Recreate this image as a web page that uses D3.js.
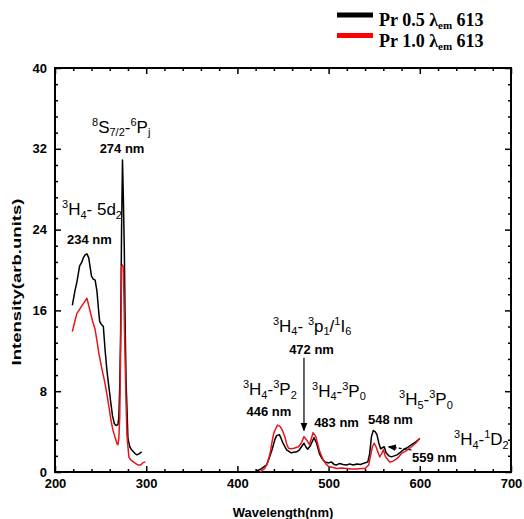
<!DOCTYPE html>
<html lang="en">
<head>
  <meta charset="UTF-8" />
  <title>Pr excitation spectra</title>
  <script src="https://d3js.org/d3.v7.min.js"></script>
  <style>
    body { margin: 0; background: #fff; }
    svg { display: block; }
    .tick text { font-family: "Liberation Sans", Arial, sans-serif; font-weight: bold; font-size: 13px; fill: #000; }
    .ann { font-family: "Liberation Sans", Arial, sans-serif; fill: #000; }
    .nm { font-family: "Liberation Sans", Arial, sans-serif; font-weight: bold; font-size: 13px; fill: #000; }
    .legend text { font-family: "Liberation Serif", "DejaVu Serif", serif; font-weight: bold; font-size: 18px; }
  </style>
</head>
<body>
  <svg width="524" height="519"></svg>
  <script>
    // UV part of the spectra (Pr 0.5 black, Pr 1.0 red)
    const pr05UvWave = [219,222,224,227,229,231,233,235,237,240,242,244,246,248,249,251,253,255,257,259,261,263,265,267,269,270,271,272,273,274,275,276,277,278,280,282,284,286,288,290,292,295];
    const pr05UvInt  = [16.5,18.0,18.8,20.4,20.7,21.2,21.5,21.6,21.2,19.4,19.1,19.0,17.9,15.8,14.9,14.6,14.4,12.0,10.0,8.5,7.0,5.6,4.8,4.6,4.7,5.4,8.5,14,24,30.9,27,22,14,8.8,3.3,2.5,2.2,2.0,1.8,1.7,1.8,2.0];
    const pr10UvWave = [219,222,224,227,229,232,235,238,241,244,246,248,251,255,258,262,264,266,268,269,270,271,272,273,274,275,276,277,278,279,281,283,286,289,291,294,296,299];
    const pr10UvInt  = [13.9,15.0,15.7,16.1,16.4,16.8,17.2,16.1,15.0,14.1,13.0,11.8,10.4,8.7,7.1,4.8,4.0,3.4,2.8,2.7,3.3,5.5,12,20.3,20.5,20.3,15,10.5,6.5,3.5,1.5,1.2,1.0,0.8,0.7,0.7,0.9,1.0];

    // visible part
    const pr05VisWave = [421,426,432,435,438,441,443,446,448,450,454,459,465,468,471,473,475,477,480,484,487,490,493,496,500,503,506,509,512,516,520,523,527,531,535,538,543,545,547,549,551,553,555,557,559,561,563,566,569,572,575,578,582,586,591,596,600];
    const pr05VisInt  = [0.1,0.3,0.7,1.4,2.2,3.2,3.6,3.7,3.3,2.85,2.2,1.9,2.0,2.2,2.6,2.85,2.5,2.25,2.6,3.4,2.8,1.8,1.3,1.0,0.9,1.0,0.75,0.7,0.85,0.75,0.7,0.8,0.7,0.8,0.75,0.85,1.0,1.8,3.5,4.1,4.0,3.7,2.9,2.3,2.4,2.5,1.9,1.6,1.5,1.6,1.7,1.9,2.2,2.4,2.7,3.0,3.3];
    const pr10VisWave = [425,430,433,436,438,440,444,447,449,452,454,456,459,462,467,470,473,476,479,481,483,486,488,490,494,497,500,505,509,514,520,525,531,536,540,544,546,548,550,552,554,556,558,560,562,564,567,570,573,577,580,585,591,596,600];
    const pr10VisInt  = [0,0.35,0.9,1.9,3.0,3.9,4.65,4.5,4.2,3.5,2.8,2.35,2.3,2.35,2.5,2.85,3.5,3.15,2.7,3.3,3.9,3.5,2.8,2.1,1.2,0.8,0.55,0.45,0.35,0.4,0.35,0.3,0.3,0.35,0.35,0.7,1.6,2.5,2.85,2.5,2.0,1.5,1.8,2.2,1.6,1.3,1.0,1.05,1.2,1.5,1.85,2.1,2.5,2.9,3.35];

    const xMajor = [200,300,400,500,600,700];
    const yMajor = [0,8,16,24,32,40];

    const legendNames = ["Pr 0.5 λ", "Pr 1.0 λ"];
    const legendColors = ["#000", "#ff0000"];

    // transition labels: parts are [text, "sup"|"sub"|undefined], anchored at (wave, intensity)
    const transitions = [
      { parts: [["8","sup"],["S"],["7/2","sub"],["-"],["6","sup"],["P"],["j","sub"]], wave: 240.6, val: 33.6 },
      { parts: [["3","sup"],["H"],["4","sub"],["- 5d"],["2","sub"]], wave: 207.7, val: 25.4 },
      { parts: [["3","sup"],["H"],["4","sub"],["- "],["3","sup"],["p"],["1","sub"],["/"],["1","sup"],["I"],["6","sub"]], wave: 439, val: 13.9 },
      { parts: [["3","sup"],["H"],["4","sub"],["-"],["3","sup"],["P"],["2","sub"]], wave: 406.1, val: 7.6 },
      { parts: [["3","sup"],["H"],["4","sub"],["-"],["3","sup"],["P"],["0","sub"]], wave: 481.8, val: 7.46 },
      { parts: [["3","sup"],["H"],["5","sub"],["-"],["3","sup"],["P"],["0","sub"]], wave: 577.2, val: 6.63 },
      { parts: [["3","sup"],["H"],["4","sub"],["-"],["1","sup"],["D"],["2","sub"]], wave: 637.5, val: 2.67 }
    ];
    const nmLabels = [
      { text: "274 nm", wave: 273.5, val: 31.6 },
      { text: "234 nm", wave: 237.8, val: 22.6 },
      { text: "472 nm", wave: 481.3, val: 11.7 },
      { text: "446 nm", wave: 434.6, val: 5.57 },
      { text: "483 nm", wave: 508.7, val: 4.49 },
      { text: "548 nm", wave: 567.9, val: 4.75 },
      { text: "559 nm", wave: 616.1, val: 1.02 }
    ];

    const svg = d3.select("svg");
    const W = 524, H = 519;
    const margin = { top: 68, right: 13, bottom: 47, left: 55 };

    const x = d3.scaleLinear().domain([200, 700]).range([margin.left, W - margin.right]);
    const y = d3.scaleLinear().domain([0, 40]).range([H - margin.bottom, margin.top]);

    const xMinor = d3.range(200, 701, 20).filter(v => !xMajor.includes(v));
    const yMinor = d3.range(0, 40.01, 1.6).map(v => +v.toFixed(1)).filter(v => !yMajor.includes(v));

    const defs = svg.append("defs");
    defs.append("marker").attr("id", "arr").attr("viewBox", "0 0 10 10")
      .attr("refX", 9).attr("refY", 5).attr("markerWidth", 7).attr("markerHeight", 7)
      .attr("orient", "auto-start-reverse")
      .append("path").attr("d", "M0,1 L10,5 L0,9 z").attr("fill", "#000");

    // axes (ticks point inward, mirrored on top/right)
    function drawAxis(axis, tx, ty, labels) {
      const g = svg.append("g").attr("transform", `translate(${tx},${ty})`).call(axis);
      g.select(".domain").remove();
      g.selectAll(".tick line").attr("stroke", "#000").attr("stroke-width", 1.5);
      if (!labels) g.selectAll(".tick text").remove();
      return g;
    }
    const plotBottom = y(0), plotTop = y(40), plotLeft = x(200), plotRight = x(700);
    drawAxis(d3.axisBottom(x).tickValues(xMajor).tickSize(-6).tickPadding(7).tickFormat(d3.format("d")), 0, plotBottom, true);
    drawAxis(d3.axisBottom(x).tickValues(xMinor).tickSize(-3), 0, plotBottom, false);
    drawAxis(d3.axisTop(x).tickValues(xMajor).tickSize(-6), 0, plotTop, false);
    drawAxis(d3.axisTop(x).tickValues(xMinor).tickSize(-3), 0, plotTop, false);
    drawAxis(d3.axisLeft(y).tickValues(yMajor).tickSize(-6).tickPadding(8).tickFormat(d3.format("d")), plotLeft, 0, true);
    drawAxis(d3.axisLeft(y).tickValues(yMinor).tickSize(-3), plotLeft, 0, false);
    drawAxis(d3.axisRight(y).tickValues(yMajor).tickSize(-6), plotRight, 0, false);
    drawAxis(d3.axisRight(y).tickValues(yMinor).tickSize(-3), plotRight, 0, false);

    svg.append("rect")
      .attr("x", plotLeft).attr("y", plotTop)
      .attr("width", plotRight - plotLeft).attr("height", plotBottom - plotTop)
      .attr("fill", "none").attr("stroke", "#000").attr("stroke-width", 2);

    // curves
    const line = d3.line().x(d => x(d[0])).y(d => y(d[1]));
    const series = [
      { color: "#000", parts: [d3.zip(pr05UvWave, pr05UvInt), d3.zip(pr05VisWave, pr05VisInt)] },
      { color: "#e8151b", parts: [d3.zip(pr10UvWave, pr10UvInt), d3.zip(pr10VisWave, pr10VisInt)] }
    ];
    series.forEach(s => {
      s.parts.forEach(p => {
        svg.append("path").datum(p)
          .attr("d", line)
          .attr("fill", "none")
          .attr("stroke", s.color)
          .attr("stroke-width", 1.5)
          .attr("stroke-linejoin", "round");
      });
    });

    // transition labels with super/subscripts
    const mainSize = 17, scriptSize = 11;
    transitions.forEach(t => {
      const txt = svg.append("text").attr("class", "ann")
        .attr("x", x(t.wave)).attr("y", y(t.val))
        .attr("font-size", mainSize);
      let cur = 0;
      t.parts.forEach(([s, kind]) => {
        const target = kind === "sup" ? -7 : kind === "sub" ? 3.5 : 0;
        txt.append("tspan")
          .attr("dy", target - cur)
          .attr("font-size", kind ? scriptSize : mainSize)
          .text(s);
        cur = target;
      });
    });

    svg.selectAll("text.nm").data(nmLabels).enter().append("text")
      .attr("class", "nm")
      .attr("x", d => x(d.wave)).attr("y", d => y(d.val))
      .attr("text-anchor", "middle")
      .text(d => d.text);

    // arrows
    svg.append("line")
      .attr("x1", x(473)).attr("y1", y(11.3))
      .attr("x2", x(473)).attr("y2", y(4.1))
      .attr("stroke", "#000").attr("stroke-width", 1.2)
      .attr("marker-end", "url(#arr)");
    svg.append("line")
      .attr("x1", x(591)).attr("y1", y(2.18))
      .attr("x2", x(565.5)).attr("y2", y(2.5))
      .attr("stroke", "#000").attr("stroke-width", 1.2)
      .attr("stroke-dasharray", "3,2")
      .attr("marker-end", "url(#arr)");

    // axis titles
    svg.append("text")
      .attr("x", (plotLeft + plotRight) / 2).attr("y", 517)
      .attr("text-anchor", "middle")
      .attr("font-family", "Liberation Sans, Arial, sans-serif")
      .attr("font-weight", "bold").attr("font-size", 13)
      .text("Wavelength(nm)");
    svg.append("text")
      .attr("transform", `translate(21,${(plotTop + plotBottom) / 2 + 12}) rotate(-90)`)
      .attr("text-anchor", "middle")
      .attr("font-family", "Liberation Sans, Arial, sans-serif")
      .attr("font-weight", "bold").attr("font-size", 13)
      .attr("textLength", 167).attr("lengthAdjust", "spacingAndGlyphs")
      .text("Intensity(arb.units)");

    // legend
    const lg = svg.append("g").attr("class", "legend");
    legendNames.forEach((name, i) => {
      const yy = 15 + i * 20.5;
      lg.append("line")
        .attr("x1", 337).attr("x2", 373).attr("y1", yy).attr("y2", yy)
        .attr("stroke", legendColors[i]).attr("stroke-width", 5);
      const t = lg.append("text").attr("x", 379).attr("y", yy + 11);
      t.append("tspan").text(name);
      t.append("tspan").attr("font-size", 11).attr("dy", 3).text("em");
      t.append("tspan").attr("dy", -3).text(" 613");
    });
  </script>
</body>
</html>
